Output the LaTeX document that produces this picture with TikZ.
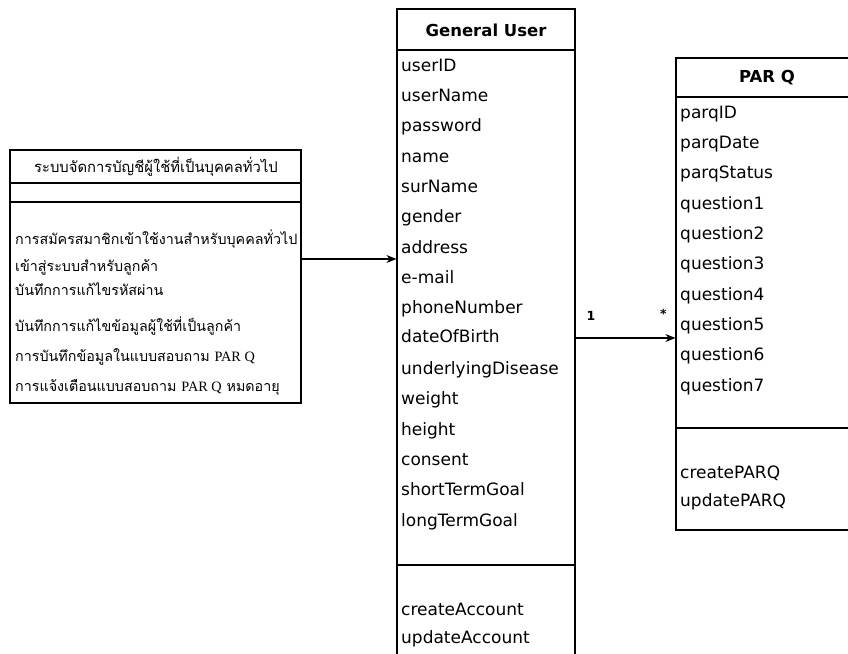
\documentclass[tikz,border=0pt]{standalone}
\usepackage{fontspec}
\setmainfont{DejaVu Sans}
\newfontfamily\thaifont[Script=Thai]{Loma}
\newfontfamily\latinserif{Liberation Serif}
\usetikzlibrary{arrows.meta}

\tikzset{
  classbox/.style={draw,line width=1.2pt,inner sep=0pt},
  sectionline/.style={draw,line width=1.2pt},
  attr/.style={anchor=west,inner sep=0pt,text height=12pt,text depth=4pt,
    font=\fontsize{17}{20}\selectfont},
  thaiitem/.style={anchor=west,inner sep=0pt,text height=10pt,text depth=3pt,
    font=\thaifont\fontsize{14.3}{17}\selectfont},
  classname/.style={inner sep=0pt,font=\bfseries\fontsize{16.5}{20}\selectfont},
  mult/.style={inner sep=0pt,font=\bfseries\fontsize{12.5}{14}\selectfont}
}

\begin{document}
\begin{tikzpicture}
  [x=1pt,y=-1pt,>={Stealth[length=10pt,width=8pt]}]
  \useasboundingbox (0,0) rectangle (848,653);

  % the three boxes
  \node[classbox,minimum width=291pt,minimum height=253pt] (sys) at (155.5,276.5) {};
  \node[classbox,minimum width=178pt,minimum height=700pt] (gu) at (486,359) {};
  \node[classbox,minimum width=182pt,minimum height=472pt] (parq) at (767,294) {};

  % compartments
  \path[sectionline] (sys.west |- 0,183) -- (sys.east |- 0,183);
  \path[sectionline] (sys.west |- 0,202) -- (sys.east |- 0,202);
  \path[sectionline] (gu.west |- 0,50) -- (gu.east |- 0,50);
  \path[sectionline] (gu.west |- 0,565) -- (gu.east |- 0,565);
  \path[sectionline] (parq.west |- 0,97) -- (parq.east |- 0,97);
  \path[sectionline] (parq.west |- 0,428) -- (parq.east |- 0,428);

  % left box
  \node[font=\thaifont\fontsize{14.8}{17}\selectfont] (systitle) at (156,167) {ระบบจัดการบัญชีผู้ใช้ที่เป็นบุคคลทั่วไป};
  \node[thaiitem] (s1) at (15,241) {การสมัครสมาชิกเข้าใช้งานสำหรับบุคคลทั่วไป};
  \node[thaiitem] (s2) at (15,268) {เข้าสู่ระบบสำหรับลูกค้า};
  \node[thaiitem] (s3) at (15,292) {บันทึกการแก้ไขรหัสผ่าน};
  \node[thaiitem] (s4) at (15,328) {บันทึกการแก้ไขข้อมูลผู้ใช้ที่เป็นลูกค้า};
  \node[thaiitem] (s5) at (15,358) {การบันทึกข้อมูลในแบบสอบถาม {\latinserif PAR Q}};
  \node[thaiitem] (s6) at (15,388) {การแจ้งเตือนแบบสอบถาม {\latinserif PAR Q} หมดอายุ};

  % General User
  \node[classname] (gutitle) at (486,30) {General User};
  \node[attr] (uid) at (401,67) {userID};
  \node[attr] (uname) at (401,97) {userName};
  \node[attr] (pwd) at (401,127) {password};
  \node[attr] (name) at (401,158) {name};
  \node[attr] (sname) at (401,188) {surName};
  \node[attr] (gender) at (401,218) {gender};
  \node[attr] (addr) at (401,249) {address};
  \node[attr] (mail) at (401,279) {e-mail};
  \node[attr] (phone) at (401,309) {phoneNumber};
  \node[attr] (dob) at (401,338) {dateOfBirth};
  \node[attr] (disease) at (401,370) {underlyingDisease};
  \node[attr] (weight) at (401,400) {weight};
  \node[attr] (height) at (401,431) {height};
  \node[attr] (consent) at (401,461) {consent};
  \node[attr] (stgoal) at (401,491) {shortTermGoal};
  \node[attr] (ltgoal) at (401,522) {longTermGoal};
  \node[attr] (create) at (401,611) {createAccount};
  \node[attr] (update) at (401,639) {updateAccount};

  % PAR Q
  \node[classname] (parqtitle) at (767,78) {PAR Q};
  \node[attr] (pid) at (680,114) {parqID};
  \node[attr] (pdate) at (680,144) {parqDate};
  \node[attr] (pstatus) at (680,174) {parqStatus};
  \node[attr] (q1) at (680,205) {question1};
  \node[attr] (q2) at (680,235) {question2};
  \node[attr] (q3) at (680,265) {question3};
  \node[attr] (q4) at (680,296) {question4};
  \node[attr] (q5) at (680,326) {question5};
  \node[attr] (q6) at (680,356) {question6};
  \node[attr] (q7) at (680,387) {question7};
  \node[attr] (pcreate) at (680,474) {createPARQ};
  \node[attr] (pupdate) at (680,502) {updatePARQ};

  % multiplicities
  \node[mult] (m1) at (591,316) {1};
  \node[mult] (m2) at (663.5,314) {*};

  \coordinate (sysport) at (sys.east |- 0,259);
  \path[line width=1.2pt]
        (sysport) edge[->] (gu.west |- sysport)
        (gu.east |- dob) edge[->] (parq.west |- dob);

\end{tikzpicture}
\end{document}
